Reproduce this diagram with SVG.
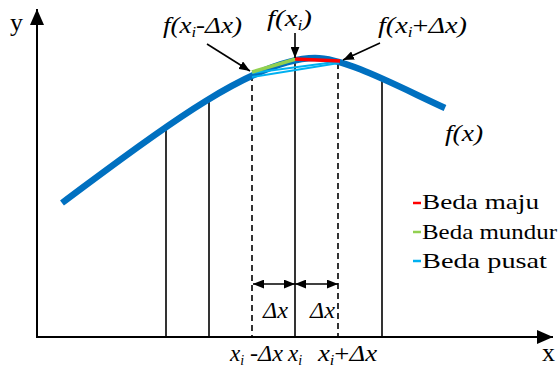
<svg xmlns="http://www.w3.org/2000/svg" width="560" height="367" viewBox="0 0 560 367">
<style>
.ax{stroke:#000;stroke-width:2;fill:none}
.vl{stroke:#000;stroke-width:1.6;fill:none}
.dl{stroke:#000;stroke-width:1.6;fill:none;stroke-dasharray:6 4}
.ar{stroke:#000;stroke-width:1.6;fill:none}
.m{font-family:'Liberation Serif','Times New Roman',Times,serif;font-style:italic;font-size:23px;fill:#000}
.sub{font-size:14px;font-style:italic}
.lg{font-family:'Liberation Serif','Times New Roman',Times,serif;font-size:22px;fill:#000}
.ttl{font-family:'Liberation Serif','Times New Roman',Times,serif;font-size:26px;fill:#000}
</style>
<defs>
<marker id="ah" viewBox="0 0 10 8" refX="10" refY="4" markerWidth="11" markerHeight="9" markerUnits="userSpaceOnUse" orient="auto-start-reverse">
<path d="M0,0 L10,4 L0,8 Z" fill="#000"/>
</marker>
<marker id="axh" viewBox="0 0 16 14" refX="16" refY="7" markerWidth="16" markerHeight="14" markerUnits="userSpaceOnUse" orient="auto">
<path d="M0,0 L16,7 L0,14 Z" fill="#000"/>
</marker>
</defs>
<g id="axes">
<line class="ax" x1="37" y1="337" x2="37" y2="9" marker-end="url(#axh)"/>
<line class="ax" x1="36" y1="337" x2="553" y2="337" marker-end="url(#axh)"/>
<text class="ttl" x="10" y="31">y</text>
<text class="ttl" x="542" y="361" font-size="23" textLength="13" lengthAdjust="spacingAndGlyphs">x</text>
</g>
<g id="verticals">
<line class="vl" x1="166" y1="127" x2="166" y2="337"/>
<line class="vl" x1="209" y1="101" x2="209" y2="337"/>
<line class="vl" x1="295" y1="58" x2="295" y2="337"/>
<line class="vl" x1="382" y1="79" x2="382" y2="337"/>
<line class="dl" x1="252" y1="75" x2="252" y2="337"/>
<line class="dl" x1="338" y1="63" x2="338" y2="337"/>
</g>
<g id="curve">
<path d="M62,203 C140,145 250,58 315,58 C345,58 395,85 445,108" fill="none" stroke="#0070C0" stroke-width="6.5"/>
</g>
<g id="secants">
<line x1="252" y1="73" x2="339" y2="61.5" stroke="#00B0F0" stroke-width="2"/>
<line x1="252" y1="77" x2="339" y2="63" stroke="#00B0F0" stroke-width="2"/>
<line x1="252" y1="72" x2="296" y2="59" stroke="#92D050" stroke-width="3.5"/>
<line x1="295" y1="59" x2="340" y2="61" stroke="#FF0000" stroke-width="3.5"/>
</g>
<g id="connectors">
<line class="ar" x1="207" y1="44" x2="250" y2="71" marker-end="url(#ah)"/>
<line class="ar" x1="295" y1="33" x2="295" y2="58" marker-end="url(#ah)"/>
<line class="ar" x1="380" y1="43" x2="343" y2="60" marker-end="url(#ah)"/>
<line class="ar" x1="253" y1="284" x2="295" y2="284" marker-start="url(#ah)" marker-end="url(#ah)"/>
<line class="ar" x1="295" y1="284" x2="338" y2="284" marker-start="url(#ah)" marker-end="url(#ah)"/>
</g>
<g id="label-fminus">
<text class="m" x="163" y="33" textLength="79" lengthAdjust="spacingAndGlyphs">f(x<tspan class="sub" dy="4">i</tspan><tspan dy="-4" font-style="normal">-</tspan>Δx)</text>
</g>
<g id="label-fi">
<text class="m" x="267" y="26" textLength="45" lengthAdjust="spacingAndGlyphs">f(x<tspan class="sub" dy="4">i</tspan><tspan dy="-4">)</tspan></text>
</g>
<g id="label-fplus">
<text class="m" x="378" y="33" textLength="89" lengthAdjust="spacingAndGlyphs">f(x<tspan class="sub" dy="4">i</tspan><tspan dy="-4" font-style="normal">+</tspan>Δx)</text>
</g>
<g id="label-fx">
<text class="m" x="445" y="141" textLength="38" lengthAdjust="spacingAndGlyphs">f(x)</text>
</g>
<g id="label-dx">
<text class="m" x="263" y="318" textLength="25" lengthAdjust="spacingAndGlyphs">Δx</text>
<text class="m" x="310" y="318" textLength="25" lengthAdjust="spacingAndGlyphs">Δx</text>
</g>
<g id="label-ticks">
<text class="m" x="230" y="361">x<tspan class="sub" dy="4">i</tspan></text>
<text class="m" x="250" y="361" textLength="33" lengthAdjust="spacingAndGlyphs"><tspan font-style="normal">-</tspan>Δx</text>
<text class="m" x="288" y="361">x<tspan class="sub" dy="4">i</tspan></text>
<text class="m" x="318" y="361" textLength="59" lengthAdjust="spacingAndGlyphs">x<tspan class="sub" dy="4">i</tspan><tspan dy="-4" font-style="normal">+</tspan>Δx</text>
</g>
<g id="legend">
<line x1="413" y1="203" x2="421" y2="203" stroke="#FF0000" stroke-width="2.5"/>
<text class="lg" x="422" y="209" textLength="117" lengthAdjust="spacingAndGlyphs">Beda maju</text>
<line x1="413" y1="232" x2="421" y2="232" stroke="#92D050" stroke-width="2.5"/>
<text class="lg" x="422" y="239" textLength="135" lengthAdjust="spacingAndGlyphs">Beda mundur</text>
<line x1="413" y1="261" x2="421" y2="261" stroke="#00B0F0" stroke-width="2.5"/>
<text class="lg" x="422" y="268" textLength="125" lengthAdjust="spacingAndGlyphs">Beda pusat</text>
</g>
</svg>
